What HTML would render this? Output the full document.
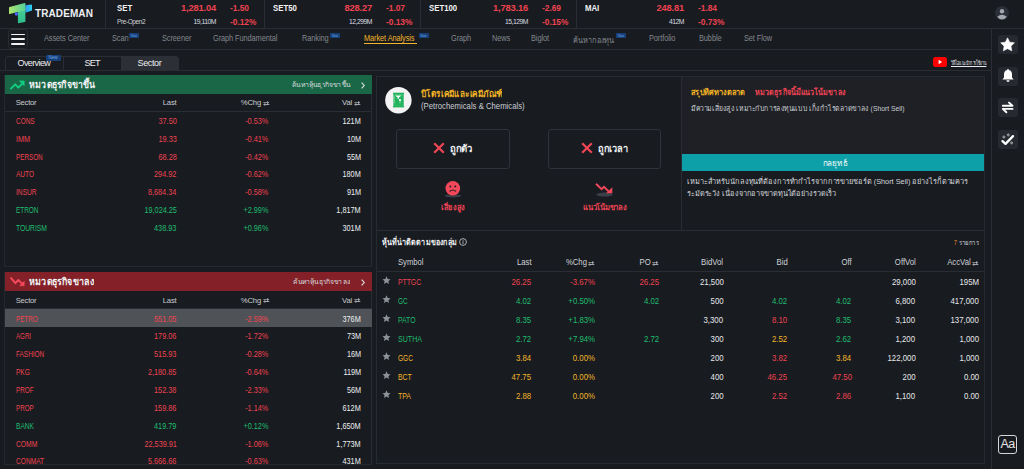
<!DOCTYPE html>
<html><head><meta charset="utf-8">
<style>
*{box-sizing:border-box;margin:0;padding:0}
html,body{width:1024px;height:469px;overflow:hidden;background:#181b20;font-family:"Liberation Sans",sans-serif;color:#e4e6e9}
.a{position:absolute;white-space:nowrap}
.hl{position:absolute;height:1px;background:#2a2d33}
.vl{position:absolute;width:1px;background:#2a2d33}
.r{color:#ef4350}.g{color:#1fbd6f}.y{color:#f2b52a}.w{color:#e4e6e9}
/* top bar */
.idx .lb{position:absolute;font-weight:bold;font-size:9.5px;color:#f2f3f5;top:2.1px;transform:scaleX(0.82);transform-origin:0 0}
.idx .v{position:absolute;font-weight:bold;font-size:9.3px;top:3px;text-align:right;letter-spacing:-0.15px}
.idx .c{position:absolute;font-weight:bold;font-size:8.3px;top:3.2px}
.idx .vol{position:absolute;font-size:6.8px;top:17.6px;text-align:right;color:#d8dbe0;letter-spacing:-0.5px}
.idx .p{position:absolute;font-weight:bold;font-size:8.3px;top:16.9px}
.nav{position:absolute;top:32.9px;font-size:8.6px;color:#83878e;letter-spacing:-0.1px;transform:scaleX(0.86);transform-origin:0 0}
.new{position:absolute;width:10px;height:4.6px;background:#173f7a;border-radius:0.5px;font-size:3.2px;color:#6aa6e0;display:flex;align-items:center;justify-content:center;padding-top:0.8px;letter-spacing:-0.1px}
/* tables */
.tbl{position:absolute;font-size:7.5px}
.tbl .row{position:absolute;left:0;right:0;height:18px}
.tbl .row span{position:absolute;top:5px}
.lp{position:absolute;left:4px;width:368px;border-left:1px solid #25282e;border-bottom:1px solid #25282e;overflow:hidden}
.ph{position:absolute;left:0;top:0;width:367px;height:19px}
.pt{position:absolute;left:24px;top:2px;font-size:10px;font-weight:bold;color:#f2f3f4}
.pl{position:absolute;top:5px;font-size:6.5px;color:#d9dcdf}
.lh{position:absolute;left:0;top:19px;width:367px;height:18px;border-bottom:1px solid #2a2d33;font-size:7.7px;color:#c9ccd1;letter-spacing:-0.2px}
.lh span{position:absolute;top:4.2px}
.lh .c1{letter-spacing:-0.25px;transform:none}
.sw{position:absolute;top:6.5px}
.lr{position:absolute;left:0;width:367px;height:17.86px;font-size:8.3px;color:#eceef0}
.lr .c2,.lr .c3,.lr .c4{transform:scaleX(0.88);transform-origin:100% 0}
.lr span{position:absolute;top:3.8px}
.c1{left:10.7px;transform-origin:0 0;letter-spacing:0}.c2{right:195.5px}.c3{right:103.5px}.c4{right:11.3px}
.mp{position:absolute;left:376px;top:76px;width:609px;height:388px;border:1px solid #262a31;overflow:hidden}
.btn{position:absolute;top:52px;width:114px;height:40px;border:1px solid #2f3339;border-radius:3px}
.mh{position:absolute;left:0;top:177px;width:607px;height:18px;border-bottom:1px solid #2a2d33;font-size:8.8px;color:#d0d3d8}
.mh span{position:absolute;top:3.3px;transform:scaleX(0.88);transform-origin:100% 0}
.sw2{position:absolute;top:7px}
.mr{position:absolute;left:0;width:607px;height:19.08px;font-size:8.8px;color:#e6e8eb}
.mr span{transform:scaleX(0.89);transform-origin:100% 0}
.mr span{position:absolute;top:4.7px}
.st{position:absolute;left:5.2px;top:4px}
.mr span.sy{left:20.5px;transform-origin:0 0}
.lp2 .lr span{top:4.6px}.lp2 .lh span{top:5px}.lp2 .lh .sw{top:7.3px}
</style></head><body>

<!-- ===== TOP BAR ===== -->
<div class="hl" style="left:0;top:28px;width:1024px"></div>
<svg class="a" style="left:0;top:0" width="33" height="27" viewBox="0 0 33 27">
  <defs><linearGradient id="lg1" x1="0" y1="0" x2="1" y2="0"><stop offset="0" stop-color="#aee46c"/><stop offset="1" stop-color="#52d39a"/></linearGradient>
  <linearGradient id="lg2" x1="0" y1="0" x2="0" y2="1"><stop offset="0" stop-color="#49d197"/><stop offset="1" stop-color="#2fbb8c"/></linearGradient>
  <linearGradient id="lg3" x1="0" y1="0" x2="1" y2="0"><stop offset="0" stop-color="#3199f4"/><stop offset="1" stop-color="#28d2ef"/></linearGradient></defs>
  <path d="M25.4 5.3 L31.4 4.6 Q32 4.6 32 5.3 L32 10.6 L25.4 12.8 Z" fill="url(#lg3)"/>
  <path d="M17.9 9 L25.4 7 L25.4 21.4 Q25.4 22 24.8 22.1 L18.5 23.2 Q17.9 23.3 17.9 22.6 Z" fill="url(#lg2)"/>
  <path d="M9.6 6.9 L24.8 2.9 Q25.4 2.8 25.4 3.4 L25.4 10.2 L9.6 13.9 Q9 14 9 13.4 L9 7.6 Q9 7 9.6 6.9 Z" fill="url(#lg1)"/>
  <circle cx="16.4" cy="14" r="1.8" fill="#4b62ee"/>
</svg>
<div class="a" style="left:35px;top:7.6px;font-weight:bold;font-size:10px;color:#eef0f2;letter-spacing:0.1px">TRADEMAN</div>
<div class="vl" style="left:105px;top:0;height:28px"></div>

<div class="idx">
  <div class="lb" style="left:117px">SET</div>
  <div class="v r" style="right:808px">1,281.04</div>
  <div class="c r" style="left:230px">-1.50</div>
  <div class="a" style="left:117px;top:17.6px;font-size:6.6px;color:#cfd2d7;letter-spacing:-0.45px">Pre-Open2</div>
  <div class="vol" style="right:808px">19,110M</div>
  <div class="p r" style="left:230px">-0.12%</div>

  <div class="vl" style="left:264px;top:0;height:28px"></div>
  <div class="lb" style="left:273px">SET50</div>
  <div class="v r" style="right:652px">828.27</div>
  <div class="c r" style="left:386px">-1.07</div>
  <div class="vol" style="right:652px">12,299M</div>
  <div class="p r" style="left:386px">-0.13%</div>

  <div class="vl" style="left:420px;top:0;height:28px"></div>
  <div class="lb" style="left:429px">SET100</div>
  <div class="v r" style="right:496px">1,783.16</div>
  <div class="c r" style="left:542px">-2.69</div>
  <div class="vol" style="right:496px">15,129M</div>
  <div class="p r" style="left:542px">-0.15%</div>

  <div class="vl" style="left:576px;top:0;height:28px"></div>
  <div class="lb" style="left:585px">MAI</div>
  <div class="v r" style="right:340px">248.81</div>
  <div class="c r" style="left:698px">-1.84</div>
  <div class="vol" style="right:340px">412M</div>
  <div class="p r" style="left:698px">-0.73%</div>
</div>
<!-- avatar -->
<svg class="a" style="left:995px;top:6px" width="14" height="14" viewBox="0 0 14 14">
  <circle cx="7" cy="7" r="7" fill="#2a2f38"/>
  <circle cx="7" cy="5.3" r="2.2" fill="#a3a8b0"/>
  <path d="M2.2 10.8 Q7 6.6 11.8 10.8 Q9.8 13.6 7 13.6 Q4.2 13.6 2.2 10.8Z" fill="#a3a8b0"/>
</svg>

<!-- ===== NAV ===== -->
<div class="hl" style="left:0;top:49px;width:992px"></div>
<div class="a" style="left:8px;top:29px;width:20px;height:20px;border:1px solid #2a2c30;border-radius:3.5px"></div>
<div class="a" style="left:11px;top:33.7px;width:14px;height:1.7px;border-radius:1px;background:#f2f2f2"></div>
<div class="a" style="left:11px;top:38.4px;width:14px;height:1.7px;border-radius:1px;background:#f2f2f2"></div>
<div class="a" style="left:11px;top:43.2px;width:14px;height:1.7px;border-radius:1px;background:#f2f2f2"></div>

<div class="nav" style="left:44px">Assets Center</div>
<div class="nav" style="left:112px">Scan</div><div class="new" style="left:129px;top:33px">New</div>
<div class="nav" style="left:162px">Screener</div>
<div class="nav" style="left:213px">Graph Fundamental</div>
<div class="nav" style="left:302px">Ranking</div><div class="new" style="left:330px;top:33px">New</div>
<div class="nav" style="left:363.5px;color:#f2b52a">Market Analysis</div><div class="new" style="left:418.5px;top:33px">New</div>
<div class="a" style="left:363.5px;top:42.5px;width:53px;height:1.5px;background:#f2b52a"></div>
<div class="nav" style="left:450.5px">Graph</div>
<div class="nav" style="left:492px">News</div>
<div class="nav" style="left:531px">Biglot</div>
<div class="nav" id="th1" style="left:572.5px;width:49px;white-space:nowrap;clip-path:inset(-8px 0 -8px -8px)">ค้นหากองทุน</div><div class="new" style="left:616px;top:33px">New</div>
<div class="nav" style="left:649px">Portfolio</div>
<div class="nav" style="left:699px">Bubble</div>
<div class="nav" style="left:744px">Set Flow</div>

<!-- ===== TAB ROW ===== -->
<div class="hl" style="left:0;top:70px;width:992px"></div>
<div class="a" style="left:5px;top:55.5px;width:174px;height:15px;border:1px solid #2a2d33;border-bottom:none;border-radius:4px 4px 0 0"></div>
<div class="vl" style="left:63px;top:56px;height:14px"></div>
<div class="a" style="left:121px;top:56px;width:57.5px;height:14px;background:#2c2f35;border-radius:0 4px 0 0"></div>
<div class="a" style="left:17.5px;top:58px;font-size:9px;color:#eceef1;letter-spacing:-0.6px">Overview</div>
<div class="new" style="left:45.5px;top:54.6px;width:15px;height:6.5px;font-size:4.6px;line-height:6.5px;border-radius:1px">New</div>
<div class="a" style="left:84.5px;top:58px;font-size:9px;color:#eceef1;letter-spacing:-0.7px">SET</div>
<div class="a" style="left:137.5px;top:58px;font-size:9px;color:#eceef1;letter-spacing:-0.35px">Sector</div>

<!-- youtube -->
<div class="a" style="left:933px;top:57.3px;width:13.7px;height:9.6px;background:#ff0000;border-radius:2.5px"></div>
<svg class="a" style="left:933px;top:57.3px" width="14" height="10" viewBox="0 0 14 10"><path d="M5.6 2.8 L9 5 L5.6 7.2Z" fill="#fff"/></svg>
<div class="a" id="th2" style="left:951px;top:57.5px;font-size:6px;color:#e8eaed;text-decoration:underline;transform:scaleX(0.6);transform-origin:0 0;width:60px;white-space:nowrap;clip-path:inset(-8px 0 -8px -8px)">วิดีโอแนะนำการใช้งาน</div>

<!-- ===== SIDEBAR ===== -->
<div class="vl" style="left:991px;top:28px;height:441px"></div>
<div class="a" style="left:998px;top:35px;width:20px;height:19px;background:#262930;border-radius:3px"></div>
<div class="a" style="left:998px;top:66.5px;width:20px;height:19px;background:#262930;border-radius:3px"></div>
<div class="a" style="left:998px;top:98px;width:20px;height:19px;background:#262930;border-radius:3px"></div>
<div class="a" style="left:998px;top:129.5px;width:20px;height:19px;background:#262930;border-radius:3px"></div>
<svg class="a" style="left:998px;top:35px" width="20" height="19" viewBox="0 0 20 19"><path d="M9.55 2.85 L11.67 7.14 L16.40 7.83 L12.97 11.16 L13.78 15.87 L9.55 13.65 L5.32 15.87 L6.13 11.16 L2.70 7.83 L7.43 7.14 Z" fill="#fff" stroke="#fff" stroke-width="0.6" stroke-linejoin="round"/></svg>
<svg class="a" style="left:998px;top:65.6px" width="20" height="19" viewBox="0 0 20 19">
  <path d="M10 3 Q10.9 3 10.9 4 Q14 4.7 14 8.5 L14 11.5 L15.6 13.4 L4.4 13.4 L6 11.5 L6 8.5 Q6 4.7 9.1 4 Q9.1 3 10 3Z" fill="#fff"/>
  <path d="M8.4 14.3 L11.6 14.3 Q11.4 16 10 16 Q8.6 16 8.4 14.3Z" fill="#fff"/>
</svg>
<svg class="a" style="left:998px;top:98px" width="20" height="19" viewBox="0 0 20 19">
  <path d="M4.8 7.7 L14.5 7.7 L11 4.6 M14.5 10.9 L4.8 10.9 L8.4 14.3" stroke="#fff" stroke-width="1.9" fill="none" stroke-linecap="round" stroke-linejoin="round"/>
</svg>
<svg class="a" style="left:998px;top:129.5px" width="20" height="19" viewBox="0 0 20 19">
  <path d="M4.5 11.1 L7.5 13.9 L15 6.1" stroke="#fff" stroke-width="2.3" fill="none" stroke-linecap="round" stroke-linejoin="round"/>
  <path d="M5.90 5.60 Q5.90 7.00 7.30 7.00 Q5.90 7.00 5.90 8.40 Q5.90 7.00 4.50 7.00 Q5.90 7.00 5.90 5.60 Z M10.30 3.50 Q10.30 4.90 11.70 4.90 Q10.30 4.90 10.30 6.30 Q10.30 4.90 8.90 4.90 Q10.30 4.90 10.30 3.50 Z M13.60 11.50 Q13.60 12.90 15.00 12.90 Q13.60 12.90 13.60 14.30 Q13.60 12.90 12.20 12.90 Q13.60 12.90 13.60 11.50 Z" stroke="#d9dadc" stroke-width="0.55" fill="none"/>
</svg>
<div class="a" style="left:998px;top:435px;width:19px;height:19px;border:1.4px solid #d4d6d9;border-radius:3px;font-size:12.5px;color:#e4e4e4;text-align:center;line-height:16.5px;letter-spacing:-0.6px">Aa</div>

<!-- LEFT PANELS -->
<div class="lp" style="top:75px;height:192px"><div class="vl" style="left:366px;top:19px;height:180px"></div>
<div class="ph" style="background:#1a6747"><svg class="a" style="left:5px;top:5px" width="15" height="10" viewBox="0 0 15 10"><path d="M0.9 8.6 L5.2 4.3 L8.3 7.6 L12.4 3.5" stroke="#12cd80" stroke-width="1.9" fill="none" stroke-linejoin="round" stroke-linecap="round"/><path d="M9.4 0.9 L14.2 0.9 L14.2 5.7 Z" fill="#12cd80" stroke="#12cd80" stroke-width="0.6" stroke-linejoin="round"/></svg><span class="pt" id="th3" style="transform:scaleX(0.875);transform-origin:0 0;width:77px;white-space:nowrap;clip-path:inset(-8px 0 -8px -8px)">หมวดธุรกิจขาขึ้น</span><span class="pl" id="th4" style="right:21px;transform:scaleX(1.05);transform-origin:100% 0;width:56px;white-space:nowrap;clip-path:inset(-8px 0 -8px -8px)">ค้นหาหุ้นธุรกิจขาขึ้น</span><svg class="a" style="right:7px;top:6.5px" width="4" height="7" viewBox="0 0 4 7"><path d="M0.6 0.6 L3.3 3.5 L0.6 6.4" stroke="#e6e8ea" stroke-width="1.1" fill="none"/></svg></div>
<div class="lh"><span class="c1">Sector</span><span class="c2">Last</span><span class="c3" style="right:111px">%Chg</span><svg class="sw" style="right:102.2px" width="7" height="5" viewBox="0 0 7 5"><path d="M0.3 1.2 H4 V0 L6.3 1.6 L4 3.2 V2.1 H0.3 Z M6.3 3.1 H2.3 V1.9 L0 3.5 L2.3 5 V4 H6.3 Z" fill="#a3a7ad"/></svg><span class="c4" style="right:20px">Val</span><svg class="sw" style="right:11.2px" width="7" height="5" viewBox="0 0 7 5"><path d="M0.3 1.2 H4 V0 L6.3 1.6 L4 3.2 V2.1 H0.3 Z M6.3 3.1 H2.3 V1.9 L0 3.5 L2.3 5 V4 H6.3 Z" fill="#a3a7ad"/></svg></div>
<div class="lr" style="top:37.00px"><span class="c1 r" style="transform:scaleX(0.776)">CONS</span><span class="c2 r">37.50</span><span class="c3 r">-0.53%</span><span class="c4">121M</span></div>
<div class="lr" style="top:54.86px"><span class="c1 r" style="transform:scaleX(0.872)">IMM</span><span class="c2 r">19.33</span><span class="c3 r">-0.41%</span><span class="c4">10M</span></div>
<div class="lr" style="top:72.72px"><span class="c1 r" style="transform:scaleX(0.760)">PERSON</span><span class="c2 r">68.28</span><span class="c3 r">-0.42%</span><span class="c4">55M</span></div>
<div class="lr" style="top:90.58px"><span class="c1 r" style="transform:scaleX(0.788)">AUTO</span><span class="c2 r">294.92</span><span class="c3 r">-0.62%</span><span class="c4">180M</span></div>
<div class="lr" style="top:108.44px"><span class="c1 r" style="transform:scaleX(0.800)">INSUR</span><span class="c2 r">8,684.34</span><span class="c3 r">-0.58%</span><span class="c4">91M</span></div>
<div class="lr" style="top:126.30px"><span class="c1 g" style="transform:scaleX(0.773)">ETRON</span><span class="c2 g">19,024.25</span><span class="c3 g">+2.99%</span><span class="c4">1,817M</span></div>
<div class="lr" style="top:144.16px"><span class="c1 g" style="transform:scaleX(0.813)">TOURISM</span><span class="c2 g">438.93</span><span class="c3 g">+0.96%</span><span class="c4">301M</span></div>
</div>
<div class="lp lp2" style="top:272px;height:193px"><div class="vl" style="left:366px;top:19px;height:180px"></div>
<div class="ph" style="background:#842028"><svg class="a" style="left:5px;top:5px" width="15" height="10" viewBox="0 0 15 10"><path d="M1.1 1.1 L5.4 6.2 L8.3 2.9 L12.3 6.9" stroke="#f44a5c" stroke-width="1.9" fill="none" stroke-linejoin="round" stroke-linecap="round"/><path d="M9.6 8.8 L14.2 8.8 L14.2 4.2 Z" fill="#f44a5c" stroke="#f44a5c" stroke-width="0.6" stroke-linejoin="round"/></svg><span class="pt" id="th5" style="transform:scaleX(0.89);transform-origin:0 0;width:74px;white-space:nowrap;clip-path:inset(-8px 0 -8px -8px)">หมวดธุรกิจขาลง</span><span class="pl" id="th6" style="right:21px;transform:scaleX(1.046);transform-origin:100% 0;width:55px;white-space:nowrap;clip-path:inset(-8px 0 -8px -8px)">ค้นหาหุ้นธุรกิจขาลง</span><svg class="a" style="right:7px;top:6.5px" width="4" height="7" viewBox="0 0 4 7"><path d="M0.6 0.6 L3.3 3.5 L0.6 6.4" stroke="#e6e8ea" stroke-width="1.1" fill="none"/></svg></div>
<div class="lh"><span class="c1">Sector</span><span class="c2">Last</span><span class="c3" style="right:111px">%Chg</span><svg class="sw" style="right:102.2px" width="7" height="5" viewBox="0 0 7 5"><path d="M0.3 1.2 H4 V0 L6.3 1.6 L4 3.2 V2.1 H0.3 Z M6.3 3.1 H2.3 V1.9 L0 3.5 L2.3 5 V4 H6.3 Z" fill="#a3a7ad"/></svg><span class="c4" style="right:20px">Val</span><svg class="sw" style="right:11.2px" width="7" height="5" viewBox="0 0 7 5"><path d="M0.3 1.2 H4 V0 L6.3 1.6 L4 3.2 V2.1 H0.3 Z M6.3 3.1 H2.3 V1.9 L0 3.5 L2.3 5 V4 H6.3 Z" fill="#a3a7ad"/></svg></div>
<div class="lr" style="top:37.00px;background:#4f5357"><span class="c1 r" style="transform:scaleX(0.756)">PETRO</span><span class="c2 r">551.05</span><span class="c3 r">-2.59%</span><span class="c4">376M</span></div>
<div class="lr" style="top:54.86px"><span class="c1 r" style="transform:scaleX(0.742)">AGRI</span><span class="c2 r">179.06</span><span class="c3 r">-1.72%</span><span class="c4">73M</span></div>
<div class="lr" style="top:72.72px"><span class="c1 r" style="transform:scaleX(0.775)">FASHION</span><span class="c2 r">515.93</span><span class="c3 r">-0.28%</span><span class="c4">16M</span></div>
<div class="lr" style="top:90.58px"><span class="c1 r" style="transform:scaleX(0.783)">PKG</span><span class="c2 r">2,180.85</span><span class="c3 r">-0.64%</span><span class="c4">119M</span></div>
<div class="lr" style="top:108.44px"><span class="c1 r" style="transform:scaleX(0.764)">PROF</span><span class="c2 r">152.38</span><span class="c3 r">-2.33%</span><span class="c4">56M</span></div>
<div class="lr" style="top:126.30px"><span class="c1 r" style="transform:scaleX(0.752)">PROP</span><span class="c2 r">159.86</span><span class="c3 r">-1.14%</span><span class="c4">612M</span></div>
<div class="lr" style="top:144.16px"><span class="c1 g" style="transform:scaleX(0.798)">BANK</span><span class="c2 g">419.79</span><span class="c3 g">+0.12%</span><span class="c4">1,650M</span></div>
<div class="lr" style="top:162.02px"><span class="c1 r" style="transform:scaleX(0.812)">COMM</span><span class="c2 r">22,539.91</span><span class="c3 r">-1.06%</span><span class="c4">1,773M</span></div>
<div class="lr" style="top:179.88px"><span class="c1 r" style="transform:scaleX(0.796)">CONMAT</span><span class="c2 r">5,666.66</span><span class="c3 r">-0.63%</span><span class="c4">431M</span></div>
</div>
<!-- MIDDLE PANEL -->
<div class="mp">
  <!-- icon -->
  <svg class="a" style="left:7px;top:9px" width="29" height="29" viewBox="0 0 29 29">
    <circle cx="14.4" cy="14.2" r="13.2" fill="#f3f3f4"/>
    <rect x="9" y="6.7" width="11.1" height="1.8" fill="#1fb35a"/>
    <rect x="9" y="19.8" width="11.1" height="1.6" fill="#1fb35a"/>
    <rect x="9.4" y="8.3" width="10.3" height="11.6" fill="#22b45d"/>
    <rect x="10.2" y="10" width="0.8" height="7.5" fill="#8adcaa" opacity=".7"/>
    <path d="M11 9.6 H17.6 L14.8 11.4 V12.9 H13.7 V11.4 Z" fill="#fff"/>
    <circle cx="16" cy="14.1" r="1.1" fill="#fff"/>
    <rect x="15.7" y="15.3" width="0.6" height="2" fill="#fff" opacity=".8"/>
  </svg>
  <div class="a" id="th7" style="left:43.5px;top:10px;font-size:9px;font-weight:bold;color:#f3b526;transform:scaleX(0.9);transform-origin:0 0;width:91px;white-space:nowrap;clip-path:inset(-8px 0 -8px -8px)">ปิโตรเคมีและเคมีภัณฑ์</div>
  <div class="a" style="left:43.5px;top:24.1px;font-size:9px;color:#c9cdd3;transform:scaleX(0.86);transform-origin:0 0">(Petrochemicals &amp; Chemicals)</div>

  <!-- buttons -->
  <div class="btn" style="left:19px"></div>
  <div class="btn" style="left:171px;width:113px"></div>
  <svg class="a" style="left:56px;top:65px" width="12" height="12" viewBox="0 0 12 12"><path d="M1.2 1.2 L10.8 10.8 M10.8 1.2 L1.2 10.8" stroke="#f04656" stroke-width="2.2"/></svg>
  <div class="a" id="th8" style="left:73px;top:64px;font-size:10px;font-weight:bold;color:#eef0f2;transform:scaleX(0.95);transform-origin:0 0;width:25px;white-space:nowrap;clip-path:inset(-8px 0 -8px -8px)">ถูกตัว</div>
  <svg class="a" style="left:204px;top:65px" width="12" height="12" viewBox="0 0 12 12"><path d="M1.2 1.2 L10.8 10.8 M10.8 1.2 L1.2 10.8" stroke="#f04656" stroke-width="2.2"/></svg>
  <div class="a" id="th9" style="left:221px;top:64px;font-size:10px;font-weight:bold;color:#eef0f2;transform:scaleX(0.92);transform-origin:0 0;width:34px;white-space:nowrap;clip-path:inset(-8px 0 -8px -8px)">ถูกเวลา</div>

  <!-- sad face -->
  <svg class="a" style="left:66px;top:103.8px" width="20" height="17" viewBox="0 0 20 17">
    <ellipse cx="10" cy="14.8" rx="8.5" ry="1.6" fill="#3a3d45"/>
    <circle cx="9.8" cy="7.3" r="7.3" fill="#f2485a"/>
    <circle cx="7.3" cy="5.6" r="1" fill="#222"/>
    <circle cx="12.3" cy="5.6" r="1" fill="#222"/>
    <path d="M6.6 10.5 Q9.8 7.6 13 10.5" stroke="#222" stroke-width="1.1" fill="none"/>
  </svg>
  <div class="a" id="th10" style="left:64px;top:123.7px;font-size:8px;font-weight:bold;color:#ee4454;transform:scaleX(0.92);transform-origin:0 0;width:27px;white-space:nowrap;clip-path:inset(-8px 0 -8px -8px)">เสี่ยงสูง</div>
  <!-- trend down -->
  <svg class="a" style="left:217px;top:105px" width="20" height="15" viewBox="0 0 20 15">
    <ellipse cx="10.5" cy="12.6" rx="8.4" ry="2" fill="#3a3e46"/>
    <path d="M2 1.8 L7.6 7.2 L10 4.8 L14.6 9.4" stroke="#f2485a" stroke-width="2" fill="none"/>
    <path d="M12.2 11.3 L18.3 11.3 L18.3 5.2 Z" fill="#f2485a"/>
  </svg>
  <div class="a" id="th11" style="left:205.5px;top:123.7px;font-size:8px;font-weight:bold;color:#ee4454;transform:scaleX(0.95);transform-origin:0 0;width:47px;white-space:nowrap;clip-path:inset(-8px 0 -8px -8px)">แนวโน้มขาลง</div>

  <!-- right info box -->
  <div class="a" style="left:304px;top:0;width:303px;height:153px;border-left:1px solid #2a2d33"></div>
  <div class="a" style="left:305px;top:0;width:302px;height:77px;background:#1f2025"></div>
  <div class="a" style="left:305px;top:77px;width:303px;height:17px;background:#0ea0a8"></div>
  <div class="a" id="th12" style="left:444.5px;top:78.5px;font-size:8.5px;color:#f4fbfb;transform:scaleX(0.95);transform-origin:50% 0;width:27px;white-space:nowrap;clip-path:inset(-8px 0 -8px -8px)">กลยุทธ์</div>
  <div class="a" id="th15" style="left:314px;top:7.8px;font-size:8.5px;font-weight:bold;color:#f3b526;transform:scaleX(0.867);transform-origin:0 0;width:64px;white-space:nowrap;clip-path:inset(-8px 0 -8px -8px)">สรุปทิศทางตลาด</div>
  <div class="a" id="th16" style="left:377.6px;top:7.8px;font-size:8.5px;font-weight:bold;color:#ee4454;transform:scaleX(0.834);transform-origin:0 0;width:109px;white-space:nowrap;clip-path:inset(-8px 0 -8px -8px)">หมวดธุรกิจนี้มีแนวโน้มขาลง</div>
  <div class="a" id="th17" style="left:314px;top:24.7px;font-size:7.5px;color:#c9cdd3;transform:scaleX(0.906);transform-origin:0 0;width:237px;white-space:nowrap;clip-path:inset(-8px 0 -8px -8px)">มีความเสี่ยงสูง เหมาะกับการลงทุนแบบ เก็งกำไรตลาดขาลง (Short Sell)</div>
  <div class="a" id="th13" style="left:310px;top:97.8px;font-size:7.5px;color:#d5d8dc;transform:scaleX(0.977);transform-origin:0 0;width:289px;white-space:nowrap;clip-path:inset(-8px 0 -8px -8px)">เหมาะสำหรับนักลงทุนที่ต้องการทำกำไรจากการขายชอร์ต (Short Sell) อย่างไรก็ตามควร</div>
  <div class="a" id="th14" style="left:310px;top:110.4px;font-size:7.5px;color:#d5d8dc;transform:scaleX(0.975);transform-origin:0 0;width:154px;white-space:nowrap;clip-path:inset(-8px 0 -8px -8px)">ระมัดระวัง เนื่องจากอาจขาดทุนได้อย่างรวดเร็ว</div>

  <div class="hl" style="left:0;top:153px;width:607px"></div>
  <!-- table title -->
  <div class="a" id="th18" style="left:4.5px;top:158.3px;font-size:8.5px;font-weight:bold;color:#eef0f2;transform:scaleX(0.84);transform-origin:0 0;width:90px;white-space:nowrap;clip-path:inset(-8px 0 -8px -8px)">หุ้นที่น่าติดตามของกลุ่ม</div>
  <svg class="a" style="left:82px;top:160.5px" width="8" height="8" viewBox="0 0 8 8"><circle cx="4" cy="4" r="3.4" stroke="#cfd2d6" stroke-width="0.8" fill="none"/><rect x="3.6" y="3.3" width="0.8" height="2.6" fill="#cfd2d6"/><rect x="3.6" y="1.9" width="0.8" height="0.8" fill="#cfd2d6"/></svg>
  <div class="a" id="th19" style="right:4px;top:159.5px;font-size:7px;color:#d5d8dc;transform:scaleX(0.85);transform-origin:100% 0;width:31px;white-space:nowrap;clip-path:inset(-8px 0 -8px -8px)"><span style="color:#f08a24">7</span> รายการ</div>
<div class="mh"><span style="left:20.5px;transform:scaleX(0.866);transform-origin:0 0">Symbol</span><span style="right:452.7px">Last</span><span style="right:397.0px">%Chg</span><svg class="sw2" style="right:388.8px" width="7" height="5" viewBox="0 0 7 5"><path d="M0.3 1.2 H4 V0 L6.3 1.6 L4 3.2 V2.1 H0.3 Z M6.3 3.1 H2.3 V1.9 L0 3.5 L2.3 5 V4 H6.3 Z" fill="#a3a7ad"/></svg><span style="right:333.0px">PO</span><svg class="sw2" style="right:324.8px" width="7" height="5" viewBox="0 0 7 5"><path d="M0.3 1.2 H4 V0 L6.3 1.6 L4 3.2 V2.1 H0.3 Z M6.3 3.1 H2.3 V1.9 L0 3.5 L2.3 5 V4 H6.3 Z" fill="#a3a7ad"/></svg><span style="right:260.6px">BidVol</span><span style="right:196.7px">Bid</span><span style="right:132.4px">Off</span><span style="right:68.5px">OffVol</span><span style="right:13.0px">AccVal</span><svg class="sw2" style="right:4.8px" width="7" height="5" viewBox="0 0 7 5"><path d="M0.3 1.2 H4 V0 L6.3 1.6 L4 3.2 V2.1 H0.3 Z M6.3 3.1 H2.3 V1.9 L0 3.5 L2.3 5 V4 H6.3 Z" fill="#a3a7ad"/></svg></div>
<div class="mr" style="top:195.00px"><svg class="st" width="9" height="9" viewBox="0 0 10 10"><path d="M5 0.4 L6.35 3.3 L9.5 3.65 L7.15 5.8 L7.8 8.95 L5 7.35 L2.2 8.95 L2.85 5.8 L0.5 3.65 L3.65 3.3 Z" fill="#8d9198"/></svg><span class="r sy" style="transform:scaleX(0.773)">PTTGC</span><span class="r" style="right:452.7px">26.25</span><span class="r" style="right:388.8px">-3.67%</span><span class="r" style="right:324.8px">26.25</span><span style="right:260.6px">21,500</span><span style="right:68.5px">29,000</span><span style="right:4.8px">195M</span></div>
<div class="mr" style="top:214.08px"><svg class="st" width="9" height="9" viewBox="0 0 10 10"><path d="M5 0.4 L6.35 3.3 L9.5 3.65 L7.15 5.8 L7.8 8.95 L5 7.35 L2.2 8.95 L2.85 5.8 L0.5 3.65 L3.65 3.3 Z" fill="#8d9198"/></svg><span class="g sy" style="transform:scaleX(0.736)">GC</span><span class="g" style="right:452.7px">4.02</span><span class="g" style="right:388.8px">+0.50%</span><span class="g" style="right:324.8px">4.02</span><span style="right:260.6px">500</span><span class="g" style="right:196.7px">4.02</span><span class="g" style="right:132.4px">4.02</span><span style="right:68.5px">6,800</span><span style="right:4.8px">417,000</span></div>
<div class="mr" style="top:233.16px"><svg class="st" width="9" height="9" viewBox="0 0 10 10"><path d="M5 0.4 L6.35 3.3 L9.5 3.65 L7.15 5.8 L7.8 8.95 L5 7.35 L2.2 8.95 L2.85 5.8 L0.5 3.65 L3.65 3.3 Z" fill="#8d9198"/></svg><span class="g sy" style="transform:scaleX(0.778)">PATO</span><span class="g" style="right:452.7px">8.35</span><span class="g" style="right:388.8px">+1.83%</span><span style="right:260.6px">3,300</span><span class="r" style="right:196.7px">8.10</span><span class="g" style="right:132.4px">8.35</span><span style="right:68.5px">3,100</span><span style="right:4.8px">137,000</span></div>
<div class="mr" style="top:252.24px"><svg class="st" width="9" height="9" viewBox="0 0 10 10"><path d="M5 0.4 L6.35 3.3 L9.5 3.65 L7.15 5.8 L7.8 8.95 L5 7.35 L2.2 8.95 L2.85 5.8 L0.5 3.65 L3.65 3.3 Z" fill="#8d9198"/></svg><span class="g sy" style="transform:scaleX(0.803)">SUTHA</span><span class="g" style="right:452.7px">2.72</span><span class="g" style="right:388.8px">+7.94%</span><span class="g" style="right:324.8px">2.72</span><span style="right:260.6px">300</span><span class="y" style="right:196.7px">2.52</span><span class="g" style="right:132.4px">2.62</span><span style="right:68.5px">1,200</span><span style="right:4.8px">1,000</span></div>
<div class="mr" style="top:271.32px"><svg class="st" width="9" height="9" viewBox="0 0 10 10"><path d="M5 0.4 L6.35 3.3 L9.5 3.65 L7.15 5.8 L7.8 8.95 L5 7.35 L2.2 8.95 L2.85 5.8 L0.5 3.65 L3.65 3.3 Z" fill="#8d9198"/></svg><span class="y sy" style="transform:scaleX(0.742)">GGC</span><span class="y" style="right:452.7px">3.84</span><span class="y" style="right:388.8px">0.00%</span><span style="right:260.6px">200</span><span class="r" style="right:196.7px">3.82</span><span class="y" style="right:132.4px">3.84</span><span style="right:68.5px">122,000</span><span style="right:4.8px">1,000</span></div>
<div class="mr" style="top:290.40px"><svg class="st" width="9" height="9" viewBox="0 0 10 10"><path d="M5 0.4 L6.35 3.3 L9.5 3.65 L7.15 5.8 L7.8 8.95 L5 7.35 L2.2 8.95 L2.85 5.8 L0.5 3.65 L3.65 3.3 Z" fill="#8d9198"/></svg><span class="y sy" style="transform:scaleX(0.784)">BCT</span><span class="y" style="right:452.7px">47.75</span><span class="y" style="right:388.8px">0.00%</span><span style="right:260.6px">400</span><span class="r" style="right:196.7px">46.25</span><span class="r" style="right:132.4px">47.50</span><span style="right:68.5px">200</span><span style="right:4.8px">0.00</span></div>
<div class="mr" style="top:309.48px"><svg class="st" width="9" height="9" viewBox="0 0 10 10"><path d="M5 0.4 L6.35 3.3 L9.5 3.65 L7.15 5.8 L7.8 8.95 L5 7.35 L2.2 8.95 L2.85 5.8 L0.5 3.65 L3.65 3.3 Z" fill="#8d9198"/></svg><span class="y sy" style="transform:scaleX(0.784)">TPA</span><span class="y" style="right:452.7px">2.88</span><span class="y" style="right:388.8px">0.00%</span><span style="right:260.6px">200</span><span class="r" style="right:196.7px">2.52</span><span class="r" style="right:132.4px">2.86</span><span style="right:68.5px">1,100</span><span style="right:4.8px">0.00</span></div>
</div>


</body></html>
